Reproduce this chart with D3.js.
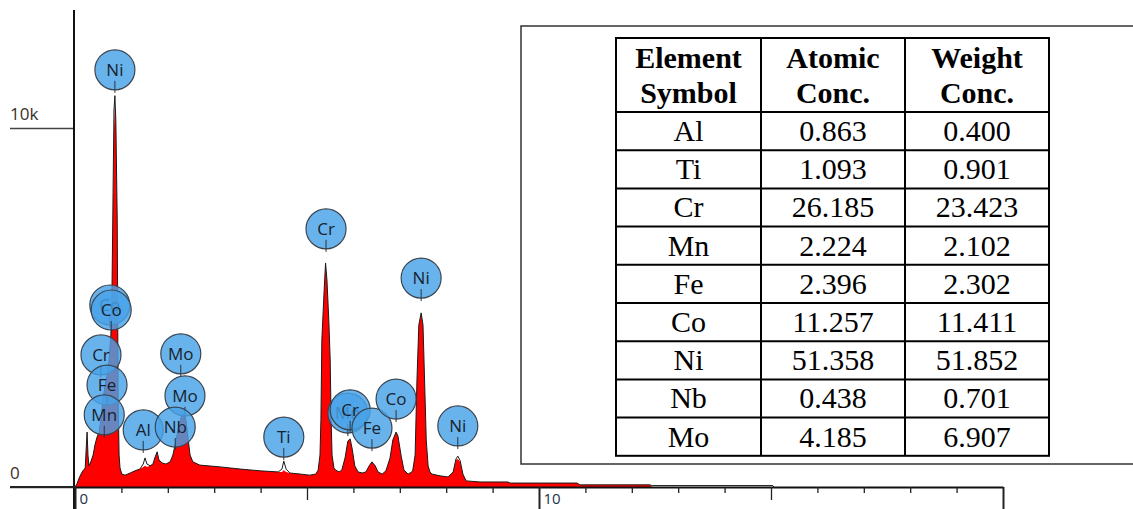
<!DOCTYPE html>
<html>
<head>
<meta charset="utf-8">
<script src="https://cdn.jsdelivr.net/npm/d3@7"></script>
<style>
	body { margin: 0; background: #fff; }
	svg { display: block; }
</style>
</head>
<body>
<svg id="chart" width="1133" height="509"></svg>
<script>

// EDS spectrum (keV / counts)
const ENERGY = [0.00, 0.04, 0.09, 0.13, 0.17, 0.22, 0.24, 0.26, 0.28, 0.30, 0.34, 0.39, 0.43, 0.47, 0.52,
	0.56, 0.60, 0.65, 0.69, 0.73, 0.78, 0.80, 0.82, 0.84, 0.86, 0.88, 0.91, 0.93, 0.95, 0.97,
	1.01, 1.08, 1.19, 1.29, 1.40, 1.47, 1.51, 1.55, 1.62, 1.68, 1.72, 1.77, 1.81, 1.88, 1.96,
	2.05, 2.11, 2.18, 2.24, 2.31, 2.35, 2.39, 2.44, 2.48, 2.54, 2.69, 3.13, 3.56, 3.99, 4.38,
	4.46, 4.50, 4.55, 4.63, 4.85, 5.06, 5.19, 5.24, 5.28, 5.30, 5.32, 5.37, 5.40, 5.43, 5.47,
	5.50, 5.52, 5.54, 5.58, 5.62, 5.69, 5.75, 5.82, 5.88, 5.93, 5.97, 6.03, 6.10, 6.19, 6.27,
	6.34, 6.40, 6.47, 6.53, 6.62, 6.70, 6.79, 6.85, 6.92, 6.96, 7.03, 7.09, 7.18, 7.26, 7.28,
	7.33, 7.37, 7.41, 7.46, 7.50, 7.54, 7.57, 7.61, 7.65, 7.69, 7.87, 8.04, 8.15, 8.21, 8.25,
	8.30, 8.36, 8.43, 8.73, 9.33, 9.38, 10.82, 10.88, 12.39, 12.44, 15.04, 15.06];

const COUNTS = [0, 80, 250, 360, 450, 530, 1030, 1530, 890, 590, 700, 890, 1170, 1370, 1530,
	1870, 2420, 2840, 3120, 3480, 4370, 5770, 8000, 9950, 10670, 10220, 7440, 2420, 890, 530,
	360, 330, 390, 450, 500, 560, 590, 560, 590, 640, 810, 980, 750, 670, 640,
	700, 890, 1310, 1730, 2030, 2090, 1870, 1310, 890, 700, 610, 560, 500, 450, 420,
	420, 470, 420, 390, 360, 330, 360, 470, 890, 1870, 4100, 5490, 6240, 5770, 4650,
	3540, 1870, 890, 530, 470, 420, 470, 810, 1280, 1340, 1090, 590, 420, 390, 420,
	590, 700, 590, 420, 360, 450, 810, 1310, 1530, 1420, 860, 470, 360, 420, 470,
	890, 2980, 4510, 4850, 4510, 2700, 1310, 590, 420, 360, 310, 280, 420, 750, 780,
	700, 360, 170, 140, 140, 110, 110, 60, 60, 0, 0, 0];

const FIT = [0, 80, 250, 360, 450, 530, 1030, 1530, 890, 590, 700, 890, 1170, 1370, 1530,
	1870, 2420, 2840, 3120, 3480, 4370, 5770, 8200, 10500, 10900, 10220, 7440, 2420, 890, 530,
	360, 330, 390, 450, 500, 640, 810, 640, 590, 640, 810, 980, 750, 670, 640,
	700, 890, 1310, 1730, 2030, 2090, 1870, 1310, 890, 700, 610, 560, 500, 450, 420,
	500, 720, 500, 390, 360, 330, 360, 470, 890, 1870, 4100, 5490, 6240, 5770, 4650,
	3540, 1870, 890, 530, 470, 420, 470, 810, 1280, 1340, 1090, 590, 420, 390, 420,
	590, 700, 590, 420, 360, 450, 810, 1310, 1530, 1420, 860, 470, 360, 420, 470,
	890, 2980, 4510, 4850, 4510, 2700, 1310, 590, 420, 360, 310, 280, 420, 780, 860,
	740, 360, 170, 140, 140, 110, 110, 60, 60, 40, 40, 0];

// element markers: symbol, line energy (keV), label height (counts)
const MARKER_SYMBOLS = ["Ni", "Co", "Co", "Cr", "Fe", "Mn", "Al", "Mo", "Nb", "Mo", "Ti", "Cr", "Mn", "Cr", "Fe", "Co", "Ni", "Ni"];
const MARKER_ENERGY = [0.86, 0.75, 0.78, 0.56, 0.69, 0.63, 1.47, 2.37, 2.16, 2.28, 4.50, 5.41, 5.88, 5.93, 6.40, 6.92, 7.46, 8.25];
const MARKER_HEIGHT = [11620, 5070, 4930, 3680, 2840, 2010, 1590, 2540, 1670, 3710, 1390, 7190, 2060, 2150, 1640, 2450, 5820, 1700];

const X_TICKS = d3.range(0, 21);
const X_MAJOR = [0, 5, 10, 15, 20];
const X_LABELS = [0, 10];
const Y_TICKS = [0, 10000];
const Y_LABELS = ["0", "10k"];

// composition table
const TABLE_HEAD = [["Element", "Symbol"], ["Atomic", "Conc."], ["Weight", "Conc."]];
const ELEMENTS = ["Al", "Ti", "Cr", "Mn", "Fe", "Co", "Ni", "Nb", "Mo"];
const ATOMIC = ["0.863", "1.093", "26.185", "2.224", "2.396", "11.257", "51.358", "0.438", "4.185"];
const WEIGHT = ["0.400", "0.901", "23.423", "2.102", "2.302", "11.411", "51.852", "0.701", "6.907"];

const svg = d3.select("#chart");

const x = d3.scaleLinear().domain([0, 20]).range([75, 1003]);
const y = d3.scaleLinear().domain([0, 10000]).range([487, 128]);

const spec = ENERGY.map((e, i) => ({e: e, c: COUNTS[i], f: FIT[i]}));

// red spectrum
svg.append("path")
	.datum(spec.filter(d => d.e <= 12.44))
	.attr("d", d3.area().x(d => x(d.e)).y0(y(0)).y1(d => y(d.c)))
	.attr("fill", "#ff0000");

// black outline
svg.append("path")
	.datum(spec)
	.attr("d", d3.line().x(d => x(d.e)).y(d => y(d.f)))
	.attr("fill", "none")
	.attr("stroke", "#1a1a1a")
	.attr("stroke-width", 1);

// y axis
const yAxis = svg.append("g")
	.attr("transform", "translate(74,0)")
	.call(d3.axisLeft(y).tickValues(Y_TICKS).tickSize(64).tickFormat((d, i) => Y_LABELS[i]));
yAxis.select(".domain").remove();
yAxis.selectAll(".tick line").attr("stroke", "#444").attr("stroke-width", 1.5);
yAxis.selectAll(".tick text")
	.attr("x", -64).attr("dy", -9)
	.attr("text-anchor", "start")
	.style("font-family", "'Open Sans', sans-serif").style("font-size", "17px")
	.attr("fill", "#3a3025");

svg.append("line")
	.attr("x1", 74).attr("x2", 74)
	.attr("y1", 10).attr("y2", 509)
	.attr("stroke", "#111").attr("stroke-width", 2);

// x axis
const xAxis = svg.append("g")
	.attr("transform", "translate(0," + y(0) + ")")
	.call(d3.axisBottom(x).tickValues(X_TICKS).tickSizeOuter(0)
		.tickFormat(d => X_LABELS.includes(d) ? d : ""));
xAxis.select(".domain").attr("stroke", "#111").attr("stroke-width", 2);
xAxis.selectAll(".tick line")
	.attr("stroke", "#222")
	.attr("stroke-width", d => X_LABELS.includes(d) || d == 20 ? 2 : 1.3)
	.attr("y2", d => X_LABELS.includes(d) || d == 20 ? 24 : (X_MAJOR.includes(d) ? 13 : 6));
xAxis.selectAll(".tick text")
	.attr("x", 4).attr("y", 17).attr("dy", 0)
	.attr("text-anchor", "start")
	.style("font-family", "'Open Sans', sans-serif").style("font-size", "15px")
	.attr("fill", "#22324a");
svg.append("line")
	.attr("x1", 10).attr("x2", x(0))
	.attr("y1", y(0)).attr("y2", y(0))
	.attr("stroke", "#222").attr("stroke-width", 2);

// element markers
const R = 20;
const markers = svg.append("g").selectAll("g")
	.data(MARKER_SYMBOLS.map((s, i) => ({s: s, e: MARKER_ENERGY[i], h: MARKER_HEIGHT[i]})))
	.enter().append("g")
	.attr("transform", d => "translate(" + x(d.e) + "," + y(d.h) + ")");

markers.append("circle")
	.attr("r", R)
	.attr("fill", "rgb(72,162,232)")
	.attr("fill-opacity", 0.82)
	.attr("stroke", "#3b4550")
	.attr("stroke-width", 1.2);

markers.append("line")
	.attr("x1", 0).attr("x2", 0)
	.attr("y1", 11).attr("y2", R + 3)
	.attr("stroke", "#2a3440").attr("stroke-width", 1);

markers.append("text")
	.attr("text-anchor", "middle")
	.attr("dy", 6)
	.style("font-family", "'Open Sans', sans-serif").style("font-size", "17px")
	.attr("fill", "#17222e")
	.text(d => d.s);

// table frame
const frame = svg.append("g");
frame.append("path")
	.attr("d", "M1133,26H521V464H1133")
	.attr("fill", "#fff")
	.attr("stroke", "#333")
	.attr("stroke-width", 1.5);

const colX = [616, 761, 905, 1049];
const headTop = 38, headBottom = 112, rowH = 38.2;
const table = svg.append("g");

table.append("rect")
	.attr("x", colX[0]).attr("y", headTop)
	.attr("width", colX[3] - colX[0])
	.attr("height", headBottom - headTop + rowH * ELEMENTS.length)
	.attr("fill", "none").attr("stroke", "#000").attr("stroke-width", 2);

table.selectAll("line.col")
	.data(colX.slice(1, 3))
	.enter().append("line")
	.attr("x1", d => d).attr("x2", d => d)
	.attr("y1", headTop).attr("y2", headBottom + rowH * ELEMENTS.length)
	.attr("stroke", "#000").attr("stroke-width", 2);

table.selectAll("line.row")
	.data(d3.range(ELEMENTS.length))
	.enter().append("line")
	.attr("x1", colX[0]).attr("x2", colX[3])
	.attr("y1", i => headBottom + rowH * i).attr("y2", i => headBottom + rowH * i)
	.attr("stroke", "#000").attr("stroke-width", 2);

const serif = "'Liberation Serif', 'Times New Roman', serif";

TABLE_HEAD.forEach((lines, j) => {
	lines.forEach((t, k) => {
		table.append("text")
			.attr("x", (colX[j] + colX[j + 1]) / 2)
			.attr("y", 68 + k * 35)
			.attr("text-anchor", "middle")
			.style("font-family", serif).style("font-size", "30px").style("font-weight", "bold")
			.text(t);
	});
});

const rows = ELEMENTS.map((el, i) => [el, ATOMIC[i], WEIGHT[i]]);
rows.forEach((r, i) => {
	r.forEach((t, j) => {
		table.append("text")
			.attr("x", (colX[j] + colX[j + 1]) / 2)
			.attr("y", headBottom + rowH * i + 29)
			.attr("text-anchor", "middle")
			.style("font-family", serif).style("font-size", "30px")
			.text(t);
	});
});

</script>
</body>
</html>
